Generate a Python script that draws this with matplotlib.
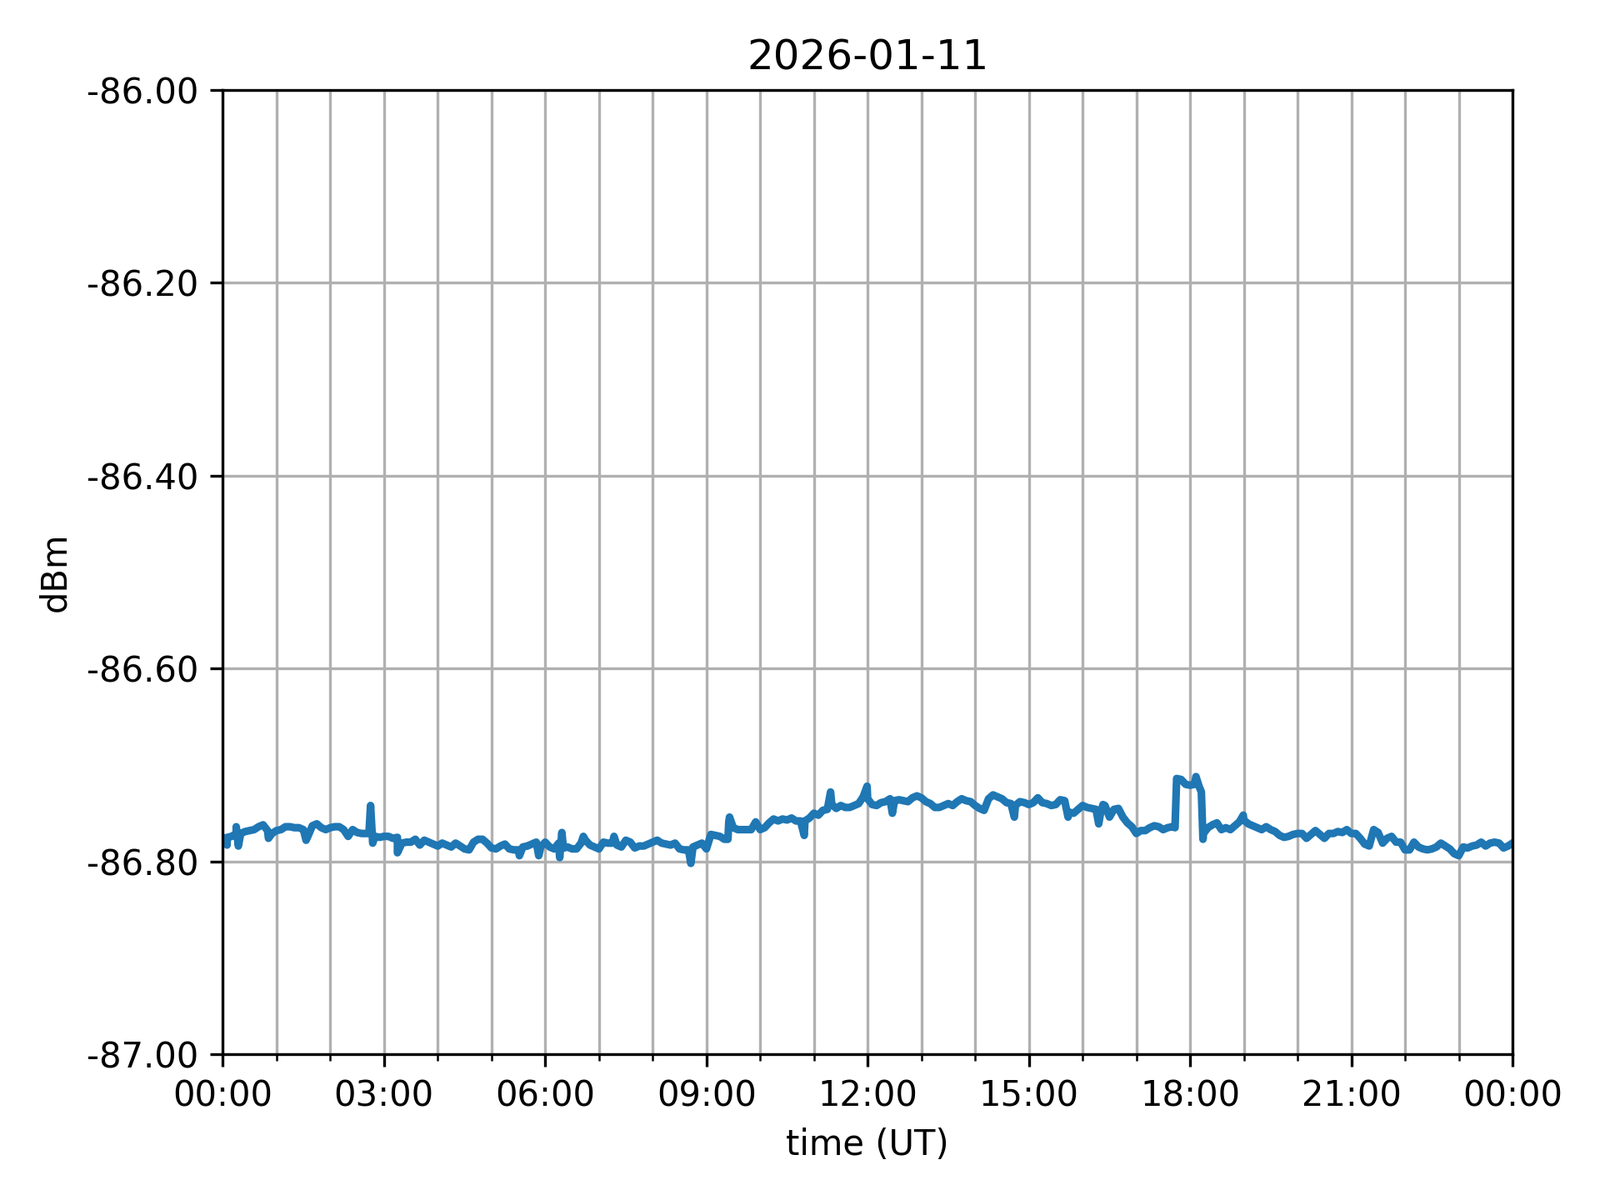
import datetime as dt
import numpy as np
import matplotlib
matplotlib.use("Agg")
import matplotlib.pyplot as plt
import matplotlib.dates as mdates
from matplotlib.ticker import FormatStrFormatter

day = dt.datetime(2026, 1, 11)

# samples on the 10-minute marks, 00:00 .. 24:00
base_dbm = [
    # 00:00 - 04:00
    -86.776, -86.774, -86.771, -86.768, -86.764, -86.768, -86.768, -86.764, -86.765,
    -86.767, -86.763, -86.765, -86.765, -86.764, -86.774, -86.770, -86.771, -86.774,
    -86.774, -86.776, -86.781, -86.780, -86.783, -86.780, -86.784,
    # 04:10 - 08:00
    -86.783, -86.781, -86.787, -86.780, -86.777, -86.786, -86.784, -86.787, -86.788,
    -86.784, -86.780, -86.780, -86.787, -86.783, -86.787, -86.781, -86.783, -86.787,
    -86.781, -86.783, -86.778, -86.786, -86.784, -86.780,
    # 08:10 - 12:00
    -86.781, -86.783, -86.787, -86.788, -86.783, -86.787, -86.773, -86.777, -86.765,
    -86.767, -86.767, -86.767, -86.760, -86.758, -86.757, -86.758, -86.758, -86.750,
    -86.747, -86.741, -86.742, -86.744, -86.740, -86.735,
    # 12:10 - 16:00
    -86.742, -86.738, -86.737, -86.737, -86.734, -86.734, -86.740, -86.744, -86.740,
    -86.738, -86.737, -86.742, -86.747, -86.731, -86.735, -86.740, -86.738, -86.741,
    -86.734, -86.740, -86.741, -86.737, -86.750, -86.742,
    # 16:10 - 20:00
    -86.745, -86.750, -86.754, -86.745, -86.760, -86.771, -86.768, -86.763, -86.767,
    -86.764, -86.715, -86.721, -86.722, -86.765, -86.760, -86.765, -86.763, -86.757,
    -86.763, -86.767, -86.767, -86.773, -86.774, -86.771,
    # 20:10 - 24:00
    -86.776, -86.768, -86.776, -86.771, -86.770, -86.771, -86.776, -86.784, -86.770,
    -86.776, -86.780, -86.788, -86.780, -86.787, -86.787, -86.781, -86.787, -86.794,
    -86.786, -86.783, -86.784, -86.780, -86.786, -86.781,
]
base_hours = [i / 6 for i in range(len(base_dbm))]

# samples half way between, 00:05 .. 23:55
mid_dbm = [
    # 00:05 - 05:55
    -86.775, -86.771, -86.769, -86.767, -86.762, -86.771,
    -86.767, -86.764, -86.765, -86.774, -86.761, -86.767,
    -86.764, -86.767, -86.767, -86.771, -86.742, -86.775,
    -86.774, -86.775, -86.780, -86.777, -86.778, -86.782,
    -86.781, -86.785, -86.784, -86.788, -86.777, -86.781,
    -86.787, -86.782, -86.788, -86.785, -86.782, -86.785,
    # 06:05 - 11:55
    -86.785, -86.781, -86.785, -86.787, -86.778, -86.785,
    -86.780, -86.781, -86.785, -86.780, -86.784, -86.782,
    -86.778, -86.782, -86.781, -86.788, -86.785, -86.781,
    -86.772, -86.774, -86.759, -86.767, -86.767, -86.759,
    -86.765, -86.756, -86.756, -86.755, -86.758, -86.755,
    -86.752, -86.746, -86.745, -86.744, -86.742, -86.733,
    # 12:05 - 17:55
    -86.741, -86.739, -86.735, -86.736, -86.738, -86.732,
    -86.738, -86.744, -86.742, -86.742, -86.735, -86.738,
    -86.745, -86.735, -86.733, -86.739, -86.742, -86.739,
    -86.739, -86.739, -86.742, -86.736, -86.749, -86.746,
    -86.744, -86.746, -86.742, -86.746, -86.754, -86.764,
    -86.768, -86.765, -86.764, -86.765, -86.714, -86.720,
    # 18:05 - 23:55
    -86.720, -86.771, -86.762, -86.767, -86.767, -86.759,
    -86.761, -86.765, -86.764, -86.769, -86.775, -86.772,
    -86.771, -86.772, -86.772, -86.771, -86.769, -86.767,
    -86.771, -86.782, -86.767, -86.781, -86.774, -86.780,
    -86.788, -86.785, -86.788, -86.785, -86.784, -86.792,
    -86.785, -86.784, -86.780, -86.781, -86.781, -86.784,
]
mid_hours = [i / 6 + 1 / 12 for i in range(len(mid_dbm))]

# short spikes / dips / steps
extra_hours = [0.08, 0.25, 0.29, 0.85, 1.55, 2.72, 2.79, 3.25, 5.52, 5.88,
               6.27, 6.31, 6.35, 6.71, 7.28, 8.71, 9.40, 9.43, 10.82, 11.31, 11.99,
               12.46, 14.73, 15.73, 16.30, 16.38, 17.72, 18.11, 18.21, 18.24,
               18.99]
extra_dbm = [-86.783, -86.764, -86.784, -86.776, -86.778, -86.771, -86.781,
             -86.791, -86.794, -86.794, -86.796, -86.770, -86.786, -86.774, -86.774,
             -86.802, -86.777, -86.754, -86.773, -86.728, -86.722, -86.750, -86.754,
             -86.754, -86.761, -86.741, -86.765, -86.712, -86.728, -86.777,
             -86.752]


def main():
    hours = np.array(base_hours + mid_hours + extra_hours)
    vals = np.array(base_dbm + mid_dbm + extra_dbm)
    order = np.argsort(hours)
    times = [day + dt.timedelta(hours=float(h)) for h in hours[order]]

    fig, ax = plt.subplots(figsize=(6.4, 4.8), dpi=300)
    ax.plot(times, vals[order], color="#1f77b4", lw=2.2)

    ax.set_xlim(day, day + dt.timedelta(days=1))
    ax.set_ylim(-87, -86)
    ax.xaxis.set_major_locator(mdates.HourLocator(interval=3))
    ax.xaxis.set_minor_locator(mdates.HourLocator())
    ax.xaxis.set_major_formatter(mdates.DateFormatter("%H:%M"))
    ax.yaxis.set_major_formatter(FormatStrFormatter("%.2f"))
    ax.grid(which="both", axis="x")
    ax.grid(which="major", axis="y")

    ax.set_title("2026-01-11")
    ax.set_xlabel("time (UT)")
    ax.set_ylabel("dBm")
    fig.tight_layout()
    fig.savefig("out.png")


if __name__ == "__main__":
    main()
